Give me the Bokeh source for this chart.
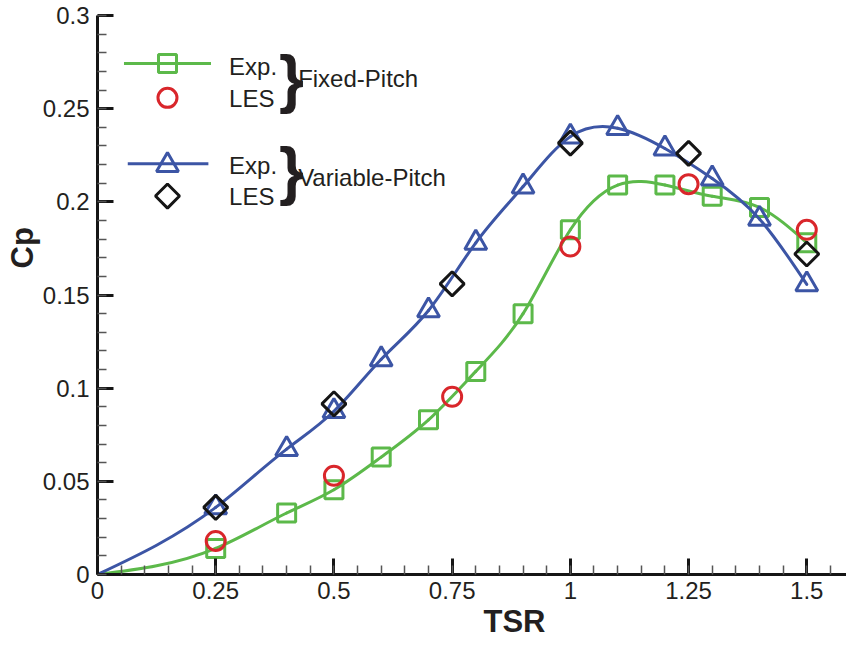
import numpy as np
from bokeh.plotting import figure
from bokeh.models import Range1d, FixedTicker, Label, Title
from bokeh.embed import file_html
from bokeh.resources import INLINE

# ---- Power coefficient Cp versus tip speed ratio (TSR) ----
tsr_exp = [0.25, 0.4, 0.5, 0.6, 0.7, 0.8, 0.9, 1.0, 1.1, 1.2, 1.3, 1.4, 1.5]
cp_fixed_exp = [0.014, 0.033, 0.0455, 0.063, 0.083, 0.109, 0.140, 0.185,
                0.209, 0.209, 0.203, 0.197, 0.178]
cp_variable_exp = [0.036, 0.0673, 0.0876, 0.1155, 0.1417, 0.178, 0.2082, 0.235,
                   0.2395, 0.2286, 0.2125, 0.1908, 0.1557]

tsr_les = [0.25, 0.5, 0.75, 1.0, 1.25, 1.5]
cp_fixed_les = [0.018, 0.053, 0.0954, 0.176, 0.2095, 0.185]
cp_variable_les = [0.036, 0.0916, 0.156, 0.2315, 0.226, 0.172]

# the fitted curves start from the rotor at rest (TSR = 0, Cp = 0)
curve_start = (0.0, 0.0)

x_ticks = [0, 0.25, 0.5, 0.75, 1.0, 1.25, 1.5]
x_tick_labels = ["0", "0.25", "0.5", "0.75", "1", "1.25", "1.5"]
y_ticks = [0, 0.05, 0.1, 0.15, 0.2, 0.25, 0.3]
y_tick_labels = ["0", "0.05", "0.1", "0.15", "0.2", "0.25", "0.3"]

GREEN = "#5cb94a"
RED = "#d9262b"
BLUE = "#3c55a5"
BLACK = "#151515"
TEXT = "#231f20"
FONT = "Liberation Sans"


def spline_segments(xs, ys):
    """Natural cubic spline through the points, returned as cubic Bezier segments."""
    x = np.asarray(xs, float)
    y = np.asarray(ys, float)
    n = len(x)
    h = np.diff(x)
    A = np.zeros((n, n))
    b = np.zeros(n)
    A[0, 0] = 1.0
    A[-1, -1] = 1.0
    for i in range(1, n - 1):
        A[i, i - 1] = h[i - 1]
        A[i, i] = 2 * (h[i - 1] + h[i])
        A[i, i + 1] = h[i]
        b[i] = 6 * ((y[i + 1] - y[i]) / h[i] - (y[i] - y[i - 1]) / h[i - 1])
    M = np.linalg.solve(A, b)
    # first derivative at each knot
    d = np.empty(n)
    d[:-1] = (y[1:] - y[:-1]) / h - h * (2 * M[:-1] + M[1:]) / 6
    d[-1] = (y[-1] - y[-2]) / h[-1] + h[-1] * (M[-2] + 2 * M[-1]) / 6
    return dict(
        x0=x[:-1], y0=y[:-1], x1=x[1:], y1=y[1:],
        cx0=x[:-1] + h / 3, cy0=y[:-1] + d[:-1] * h / 3,
        cx1=x[1:] - h / 3, cy1=y[1:] - d[1:] * h / 3,
    )


p = figure(
    width=846, height=645,
    x_range=Range1d(0, 1.584), y_range=Range1d(0, 0.3),
    output_backend="svg", toolbar_location=None,
    min_border_left=97, min_border_right=0,
    min_border_top=15, min_border_bottom=71,
)
p.outline_line_color = None
p.background_fill_color = "white"
p.border_fill_color = "white"
p.xgrid.grid_line_color = None
p.ygrid.grid_line_color = None

# ---- axes ----
p.xaxis.ticker = FixedTicker(ticks=x_ticks,
                             minor_ticks=list(np.round(np.arange(0, 1.6, 0.05), 2)))
p.yaxis.ticker = FixedTicker(ticks=y_ticks,
                             minor_ticks=list(np.round(np.arange(0, 0.301, 0.01), 3)))
p.xaxis.major_label_overrides = dict(zip(x_ticks, x_tick_labels))
p.yaxis.major_label_overrides = dict(zip(y_ticks, y_tick_labels))
for ax in (p.xaxis, p.yaxis):
    ax.axis_line_width = 3
    ax.axis_line_color = BLACK
    ax.major_tick_line_width = 3
    ax.major_tick_line_color = BLACK
    ax.major_tick_in = 16
    ax.major_tick_out = 0
    ax.minor_tick_line_width = 1.5
    ax.minor_tick_line_color = "#555555"
    ax.minor_tick_in = 9
    ax.minor_tick_out = 0
    ax.major_label_text_font = FONT
    ax.major_label_text_font_size = "24px"
    ax.major_label_text_color = TEXT
p.xaxis.major_label_standoff = 7
p.yaxis.major_label_standoff = 8

# ---- axis titles (offset along the axis from its start) ----
p.add_layout(Title(text="TSR", align="left", offset=386, standoff=0,
                   text_font=FONT, text_font_size="31px", text_font_style="bold",
                   text_color=TEXT), "below")
p.add_layout(Title(text="Cp", align="left", offset=306, standoff=0,
                   text_font=FONT, text_font_size="31px", text_font_style="bold",
                   text_color=TEXT), "left")

# ---- fitted curves through the experimental points ----
fixed_curve = spline_segments([curve_start[0]] + tsr_exp, [curve_start[1]] + cp_fixed_exp)
variable_curve = spline_segments([curve_start[0]] + tsr_exp, [curve_start[1]] + cp_variable_exp)

p.bezier(source=fixed_curve, x0="x0", y0="y0", x1="x1", y1="y1",
         cx0="cx0", cy0="cy0", cx1="cx1", cy1="cy1",
         line_color=GREEN, line_width=3, line_cap="round")
p.scatter(tsr_exp, cp_fixed_exp, marker="square", size=18,
          fill_color=None, line_color=GREEN, line_width=3)
p.scatter(tsr_les, cp_fixed_les, marker="circle", size=19,
          fill_color=None, line_color=RED, line_width=3)

p.bezier(source=variable_curve, x0="x0", y0="y0", x1="x1", y1="y1",
         cx0="cx0", cy0="cy0", cx1="cx1", cy1="cy1",
         line_color=BLUE, line_width=3, line_cap="round")
p.scatter(tsr_exp, cp_variable_exp, marker="triangle", size=22,
          fill_color=None, line_color=BLUE, line_width=3)
p.scatter(tsr_les, cp_variable_les, marker="square", angle=np.pi / 4, size=17,
          fill_color=None, line_color=BLACK, line_width=3)

# ---- legend block (placed in axis units, upper left) ----
key_x = 0.148
p.line([0.056, 0.240], [0.2742, 0.2742], line_color=GREEN, line_width=3)
p.scatter([key_x], [0.2742], marker="square", size=18,
          fill_color=None, line_color=GREEN, line_width=3)
p.scatter([key_x], [0.2558], marker="circle", size=19,
          fill_color=None, line_color=RED, line_width=3)
p.line([0.064, 0.2345], [0.2204, 0.2204], line_color=BLUE, line_width=3)
p.scatter([key_x], [0.2197], marker="triangle", size=22,
          fill_color=None, line_color=BLUE, line_width=3)
p.scatter([key_x], [0.2031], marker="square", angle=np.pi / 4, size=17,
          fill_color=None, line_color=BLACK, line_width=3)

legend_texts = [
    ("Exp.", 0.2783, 0.2728), ("LES", 0.2783, 0.2556),
    ("Fixed-Pitch", 0.4243, 0.2663),
    ("Exp.", 0.2783, 0.2197), ("LES", 0.2783, 0.2031),
    ("Variable-Pitch", 0.4243, 0.2133),
]
for txt, lx, ly in legend_texts:
    p.add_layout(Label(x=lx, y=ly, text=txt, text_font=FONT,
                       text_font_size="24px", text_color=TEXT,
                       text_align="left", text_baseline="middle"))
for by in (0.2660, 0.2165):
    p.add_layout(Label(x=0.384, y=by, text="}", text_font=FONT,
                       text_font_size="64px", text_font_style="bold",
                       text_color=TEXT, text_align="left", text_baseline="middle"))

open("out.html", "w").write(file_html(p, INLINE))
